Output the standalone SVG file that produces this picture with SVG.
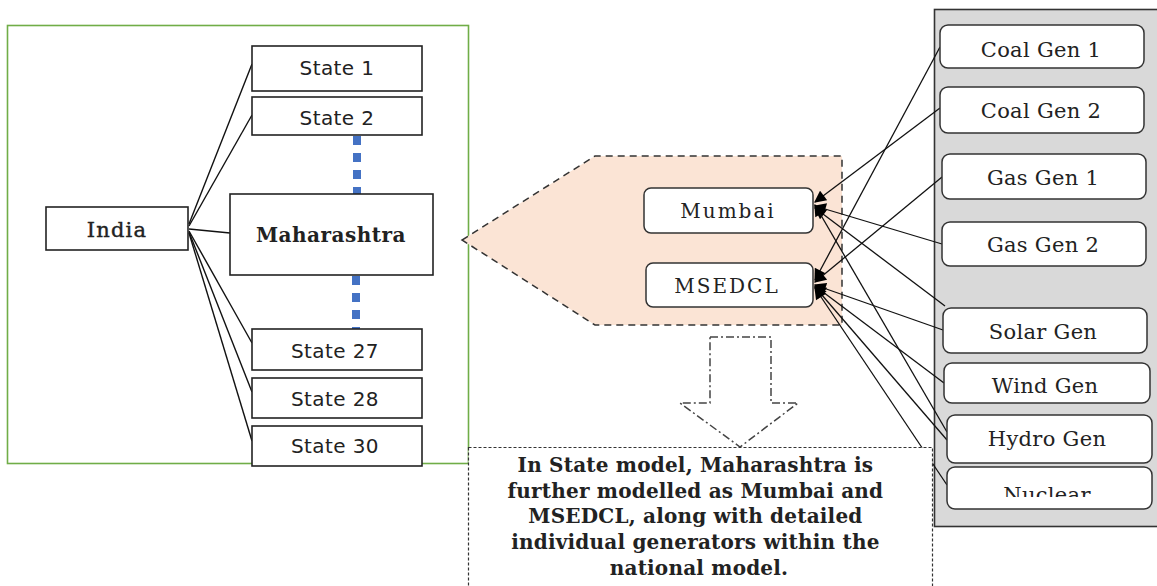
<svg xmlns="http://www.w3.org/2000/svg" width="1157" height="586" viewBox="0 0 1157 586">
<style>
.box{fill:#fff;stroke:#222;stroke-width:1.6}
.rbox{fill:#fff;stroke:#333;stroke-width:1.5}
.sans{font-family:"DejaVu Sans",sans-serif;font-size:20px;letter-spacing:0.4px;fill:#222;text-anchor:middle}
.serif{font-family:"DejaVu Serif","Liberation Serif",serif;font-size:20px;fill:#222;text-anchor:middle}
.gen{font-size:21px;letter-spacing:0.3px}
.bold{font-weight:bold}
.link{stroke:#111;stroke-width:1.4;fill:none}
.arr{stroke:#111;stroke-width:1.3;fill:none;marker-end:url(#ah)}
</style>
<defs>
<marker id="ah" viewBox="0 0 10 10" refX="9" refY="5" markerWidth="13" markerHeight="12" markerUnits="userSpaceOnUse" orient="auto">
<path d="M0,0 L10,5 L0,10 z" fill="#000"/>
</marker>
<clipPath id="nclip"><rect x="940" y="460" width="220" height="37"/></clipPath>
</defs>
<rect width="1157" height="586" fill="#fff"/>

<g id="national-frame">
<rect x="7.5" y="25.5" width="461" height="438" fill="none" stroke="#70ad47" stroke-width="1.6"/>
</g>

<g id="state-panel">
<polygon points="462,240 595,156 842,156 842,325 595,325" fill="#fbe4d5" stroke="#333" stroke-width="1.5" stroke-dasharray="7,5"/>
</g>

<g id="generator-panel">
<rect x="934.5" y="9.5" width="230" height="517" fill="#d9d9d9" stroke="#333" stroke-width="1.6"/>
</g>

<g id="connectors">
<line class="link" x1="189" y1="224" x2="252" y2="64"/>
<line class="link" x1="189" y1="226" x2="252" y2="115"/>
<line class="link" x1="189" y1="229" x2="230" y2="233"/>
<line class="link" x1="189" y1="231" x2="252" y2="343"/>
<line class="link" x1="189" y1="232" x2="252" y2="392"/>
<line class="link" x1="189" y1="233" x2="252" y2="441"/>
<line x1="357" y1="136" x2="357" y2="194" stroke="#4472c4" stroke-width="8" stroke-dasharray="9,8"/>
<line x1="356" y1="276" x2="356" y2="329" stroke="#4472c4" stroke-width="8" stroke-dasharray="9,8"/>
<line class="arr" x1="940" y1="108" x2="815" y2="202"/>
<line class="arr" x1="942" y1="244" x2="815" y2="206"/>
<line class="arr" x1="945" y1="306" x2="815" y2="208"/>
<line class="arr" x1="947" y1="432" x2="815" y2="205"/>
<line class="arr" x1="940" y1="47" x2="815" y2="280"/>
<line class="arr" x1="942" y1="177" x2="815" y2="282"/>
<line class="arr" x1="943" y1="330" x2="815" y2="285"/>
<line class="arr" x1="944" y1="383" x2="815" y2="286"/>
<line class="arr" x1="947" y1="440" x2="815" y2="287"/>
<line class="arr" x1="947" y1="485" x2="815" y2="288"/>
</g>

<g id="down-arrow">
<polygon points="710,337 771,337 771,403 798,403 740,447 680,403 710,403" fill="#fff" stroke="#444" stroke-width="1.5" stroke-dasharray="8,3,2,3"/>
</g>

<g id="india">
<rect class="box" x="46" y="207" width="142" height="43"/>
<text class="serif" x="117" y="237" style="font-size:21px;letter-spacing:1.2px;stroke:#222;stroke-width:0.4">India</text>
</g>
<g id="state1">
<rect class="box" x="252" y="46" width="170" height="45"/>
<text class="sans" x="337" y="75">State 1</text>
</g>
<g id="state2">
<rect class="box" x="252" y="97" width="170" height="38"/>
<text class="sans" x="337" y="125">State 2</text>
</g>
<g id="maharashtra">
<rect class="box" x="230" y="194" width="203" height="81"/>
<text class="serif bold" x="331" y="242" style="letter-spacing:0.5px">Maharashtra</text>
</g>
<g id="state27">
<rect class="box" x="252" y="329" width="170" height="41"/>
<text class="sans" x="335" y="358">State 27</text>
</g>
<g id="state28">
<rect class="box" x="252" y="378" width="170" height="40"/>
<text class="sans" x="335" y="406">State 28</text>
</g>
<g id="state30">
<rect class="box" x="252" y="426" width="170" height="40"/>
<text class="sans" x="335" y="453">State 30</text>
</g>

<g id="mumbai">
<rect class="rbox" x="644" y="188" width="169" height="45" rx="7"/>
<text class="serif" x="728" y="218" style="letter-spacing:2px">Mumbai</text>
</g>
<g id="msedcl">
<rect class="rbox" x="646" y="263" width="167" height="44" rx="7"/>
<text class="serif" x="727" y="293" style="letter-spacing:2px">MSEDCL</text>
</g>

<g id="coal-gen-1">
<rect class="rbox" x="940" y="25" width="204" height="43" rx="8"/>
<text class="serif gen" x="1041" y="57">Coal Gen 1</text>
</g>
<g id="coal-gen-2">
<rect class="rbox" x="940" y="87" width="204" height="46" rx="8"/>
<text class="serif gen" x="1041" y="118">Coal Gen 2</text>
</g>
<g id="gas-gen-1">
<rect class="rbox" x="942" y="154" width="204" height="45" rx="8"/>
<text class="serif gen" x="1043" y="185">Gas Gen 1</text>
</g>
<g id="gas-gen-2">
<rect class="rbox" x="942" y="222" width="204" height="44" rx="8"/>
<text class="serif gen" x="1043" y="252">Gas Gen 2</text>
</g>
<g id="solar-gen">
<rect class="rbox" x="943" y="308" width="204" height="45" rx="8"/>
<text class="serif gen" x="1043" y="339">Solar Gen</text>
</g>
<g id="wind-gen">
<rect class="rbox" x="944" y="363" width="206" height="40" rx="8"/>
<text class="serif gen" x="1045" y="393">Wind Gen</text>
</g>
<g id="hydro-gen">
<rect class="rbox" x="947" y="415" width="205" height="48" rx="8"/>
<text class="serif gen" x="1047" y="446">Hydro Gen</text>
</g>
<g id="nuclear">
<rect class="rbox" x="947" y="467" width="205" height="42" rx="8"/>
<text class="serif gen" x="1047" y="502" clip-path="url(#nclip)">Nuclear</text>
</g>

<g id="note">
<rect x="468.5" y="447.5" width="464" height="150" fill="#fff" stroke="#333" stroke-width="1.2" stroke-dasharray="3,2"/>
<text font-family="DejaVu Serif, Liberation Serif, serif" font-weight="bold" font-size="20" letter-spacing="0.2" fill="#222" text-anchor="middle">
<tspan x="699" y="472">In State model, Maharashtra is</tspan>
<tspan x="699" y="498">further modelled as Mumbai and</tspan>
<tspan x="699" y="523">MSEDCL, along with detailed</tspan>
<tspan x="699" y="549">individual generators within the</tspan>
<tspan x="699" y="575">national model.</tspan>
</text>
</g>
</svg>
